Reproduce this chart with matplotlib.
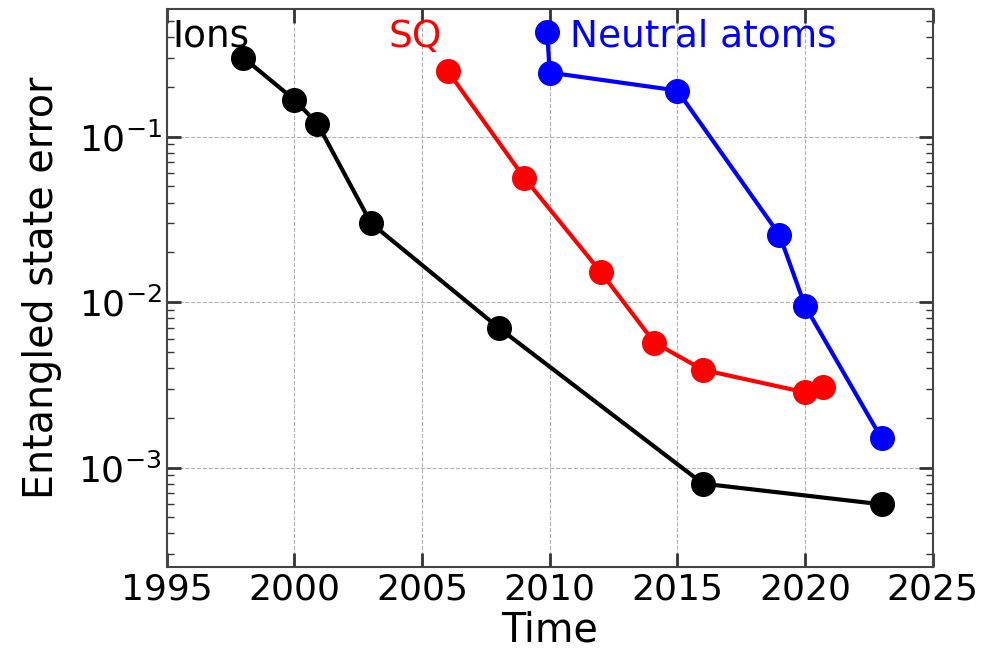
import matplotlib
matplotlib.use("Agg")
import matplotlib.pyplot as plt
import numpy as np

# Data
ions_year = [1998, 2000, 2000.9, 2003, 2008, 2016, 2023]
ions_err = [0.30, 0.167, 0.12, 0.030, 0.0070, 0.0008, 0.0006]

sq_year = [2006, 2009, 2012, 2014.1, 2016, 2020, 2020.7]
sq_err = [0.25, 0.0565, 0.0152, 0.0057, 0.0039, 0.00285, 0.00305]

na_year = [2009.9, 2010, 2015, 2019, 2020, 2023]
na_err = [0.43, 0.244, 0.19, 0.0255, 0.0095, 0.0015]

series = [
    ("Ions", ions_year, ions_err, "black", 1995.2),
    ("SQ", sq_year, sq_err, "red", 2003.7),
    ("Neutral atoms", na_year, na_err, "blue", 2010.8),
]

fig = plt.figure(figsize=(10.05, 6.52), dpi=100)
ax = fig.add_axes([0.166, 0.130, 0.762, 0.856])

for name, x, y, color, label_x in series:
    ax.plot(x, y, "-o", color=color, lw=3, ms=17)
    ax.text(label_x, 0.35, name, color=color, fontsize=27, va="baseline", ha="left")

ax.set_yscale("log")
ax.set_xlim(1995, 2025)
ax.set_ylim(2.5e-4, 0.59)
ax.set_xticks(np.arange(1995, 2026, 5))

ax.grid(True, which="major", ls="--", color="#b0b0b0", lw=0.8)
ax.tick_params(which="both", direction="in", top=True, right=True, labelsize=26, colors="#333333", labelcolor="black")
ax.tick_params(which="major", length=10, width=2)
ax.tick_params(which="minor", length=5, width=1)
ax.tick_params(axis="x", which="minor", bottom=False, top=False)
for sp in ax.spines.values():
    sp.set_color("#444444")
    sp.set_linewidth(1.5)

ax.set_xlabel("Time", fontsize=28.5, labelpad=3)
ax.set_ylabel("Entangled state error", fontsize=28.5, labelpad=12)

fig.savefig("out.png", dpi=100)
